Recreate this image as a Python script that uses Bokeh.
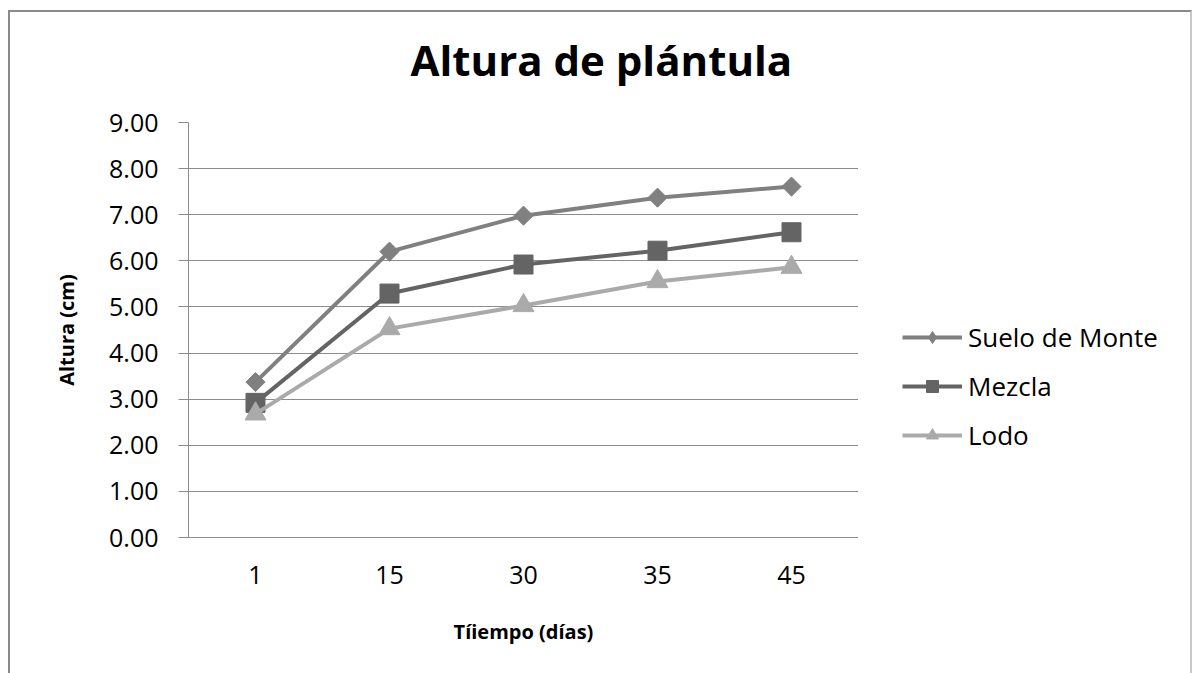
import math
from bokeh.plotting import figure
from bokeh.layouts import row
from bokeh.models import Legend, LegendItem, FixedTicker, Title, FactorRange, Range1d
from bokeh.embed import file_html
from bokeh.resources import INLINE

categories = ["1", "15", "30", "35", "45"]
suelo = [3.37, 6.20, 6.98, 7.37, 7.61]
mezcla = [2.92, 5.29, 5.92, 6.22, 6.62]
lodo = [2.68, 4.53, 5.03, 5.55, 5.86]
y_ticks = [0, 1, 2, 3, 4, 5, 6, 7, 8, 9]

FONT = "Open Sans"
c_suelo, c_mezcla, c_lodo = "#808080", "#646464", "#aaaaaa"

p = figure(width=848, height=661, x_range=categories, y_range=(0, 9),
           output_backend="svg", toolbar_location=None,
           min_border_left=178, min_border_right=0, min_border_top=110, min_border_bottom=136)
p.x_range.range_padding = 0
p.outline_line_color = None
p.background_fill_color = "white"
p.border_fill_color = "white"

# spacer between the frame and the title (added first, so it sits next to the frame)
spacer = Title(text=" ", text_font=FONT, text_font_size="1px", standoff=32)
p.add_layout(spacer, "above")
t = Title(text="Altura de plántula", align="left", offset=222, vertical_align="bottom",
          text_font=FONT, text_font_size="42px", text_font_style="bold",
          text_color="#000000", standoff=0)
p.add_layout(t, "above")

p.xgrid.grid_line_color = None
p.ygrid.grid_line_color = "#8c8c8c"
p.ygrid.grid_line_width = 1

p.yaxis.ticker = FixedTicker(ticks=y_ticks)
p.yaxis.major_label_overrides = {v: f"{v:.2f}" for v in y_ticks}
p.yaxis.axis_line_color = "#8c8c8c"
p.yaxis.major_tick_line_color = "#8c8c8c"
p.yaxis.major_tick_out = 10
p.yaxis.major_tick_in = 0
p.yaxis.minor_tick_line_color = None
p.yaxis.major_label_standoff = 20
p.yaxis.major_label_text_font = FONT
p.yaxis.major_label_text_font_size = "25px"
p.yaxis.major_label_text_color = "#000000"
p.yaxis.axis_label = "Altura (cm)"
p.yaxis.axis_label_text_font = FONT
p.yaxis.axis_label_text_font_size = "20px"
p.yaxis.axis_label_text_font_style = "bold"
p.yaxis.axis_label_text_color = "#000000"
p.yaxis.axis_label_standoff = 26

p.xaxis.axis_line_color = "#8c8c8c"
p.xaxis.major_tick_line_color = None
p.xaxis.major_tick_out = 0
p.xaxis.major_label_standoff = 28
p.xaxis.major_label_text_font = FONT
p.xaxis.major_label_text_font_size = "25px"
p.xaxis.major_label_text_color = "#000000"
p.xaxis.axis_label = "Tíiempo (días)"
p.xaxis.axis_label_text_font = FONT
p.xaxis.axis_label_text_font_size = "20px"
p.xaxis.axis_label_text_font_style = "bold"
p.xaxis.axis_label_text_color = "#000000"
p.xaxis.axis_label_standoff = 31

p.line(categories, suelo, line_color=c_suelo, line_width=4)
p.scatter(categories, suelo, marker="square", size=13.5, angle=math.pi / 4,
          fill_color=c_suelo, line_color=c_suelo)
p.line(categories, mezcla, line_color=c_mezcla, line_width=4)
p.scatter(categories, mezcla, marker="square", size=19, fill_color=c_mezcla, line_color=c_mezcla)
p.line(categories, lodo, line_color=c_lodo, line_width=4)
p.scatter(categories, lodo, marker="triangle", size=21, fill_color=c_lodo, line_color=c_lodo)

# legend panel: same series drawn off-range so only their legend entries show
q = figure(width=332, height=661, x_range=FactorRange(factors=categories), y_range=Range1d(100, 200),
           output_backend="svg", toolbar_location=None,
           x_axis_location=None, y_axis_location=None,
           min_border_left=0, min_border_right=0, min_border_top=0, min_border_bottom=0)
q.grid.visible = False
q.outline_line_color = None
q.background_fill_color = "white"
q.border_fill_color = "white"

ql1 = q.line(categories, suelo, line_color=c_suelo, line_width=4)
qm1 = q.scatter(categories, suelo, marker="diamond", size=14, fill_color=c_suelo, line_color=c_suelo)
ql2 = q.line(categories, mezcla, line_color=c_mezcla, line_width=4)
qm2 = q.scatter(categories, mezcla, marker="square", size=14, fill_color=c_mezcla, line_color=c_mezcla)
ql3 = q.line(categories, lodo, line_color=c_lodo, line_width=4)
qm3 = q.scatter(categories, lodo, marker="triangle", size=14, fill_color=c_lodo, line_color=c_lodo)

legend = Legend(items=[
    LegendItem(label="Suelo de Monte", renderers=[ql1, qm1]),
    LegendItem(label="Mezcla", renderers=[ql2, qm2]),
    LegendItem(label="Lodo", renderers=[ql3, qm3]),
], location=(44, 84))
legend.border_line_color = None
legend.background_fill_alpha = 0
legend.padding = 0
legend.margin = 0
legend.spacing = 13
legend.glyph_width = 60
legend.glyph_height = 30
legend.label_height = 30
legend.label_standoff = 6
legend.label_text_font = FONT
legend.label_text_font_size = "26px"
legend.label_text_color = "#000000"
q.add_layout(legend)

layout = row(p, q, spacing=0)
layout.margin = (10, 0, 0, 8)
layout.styles = {"border-left": "2px solid #8a8a8a", "border-top": "2px solid #8a8a8a",
                 "border-right": "2px solid #c8c8c8"}

open("out.html", "w").write(file_html(layout, INLINE))
